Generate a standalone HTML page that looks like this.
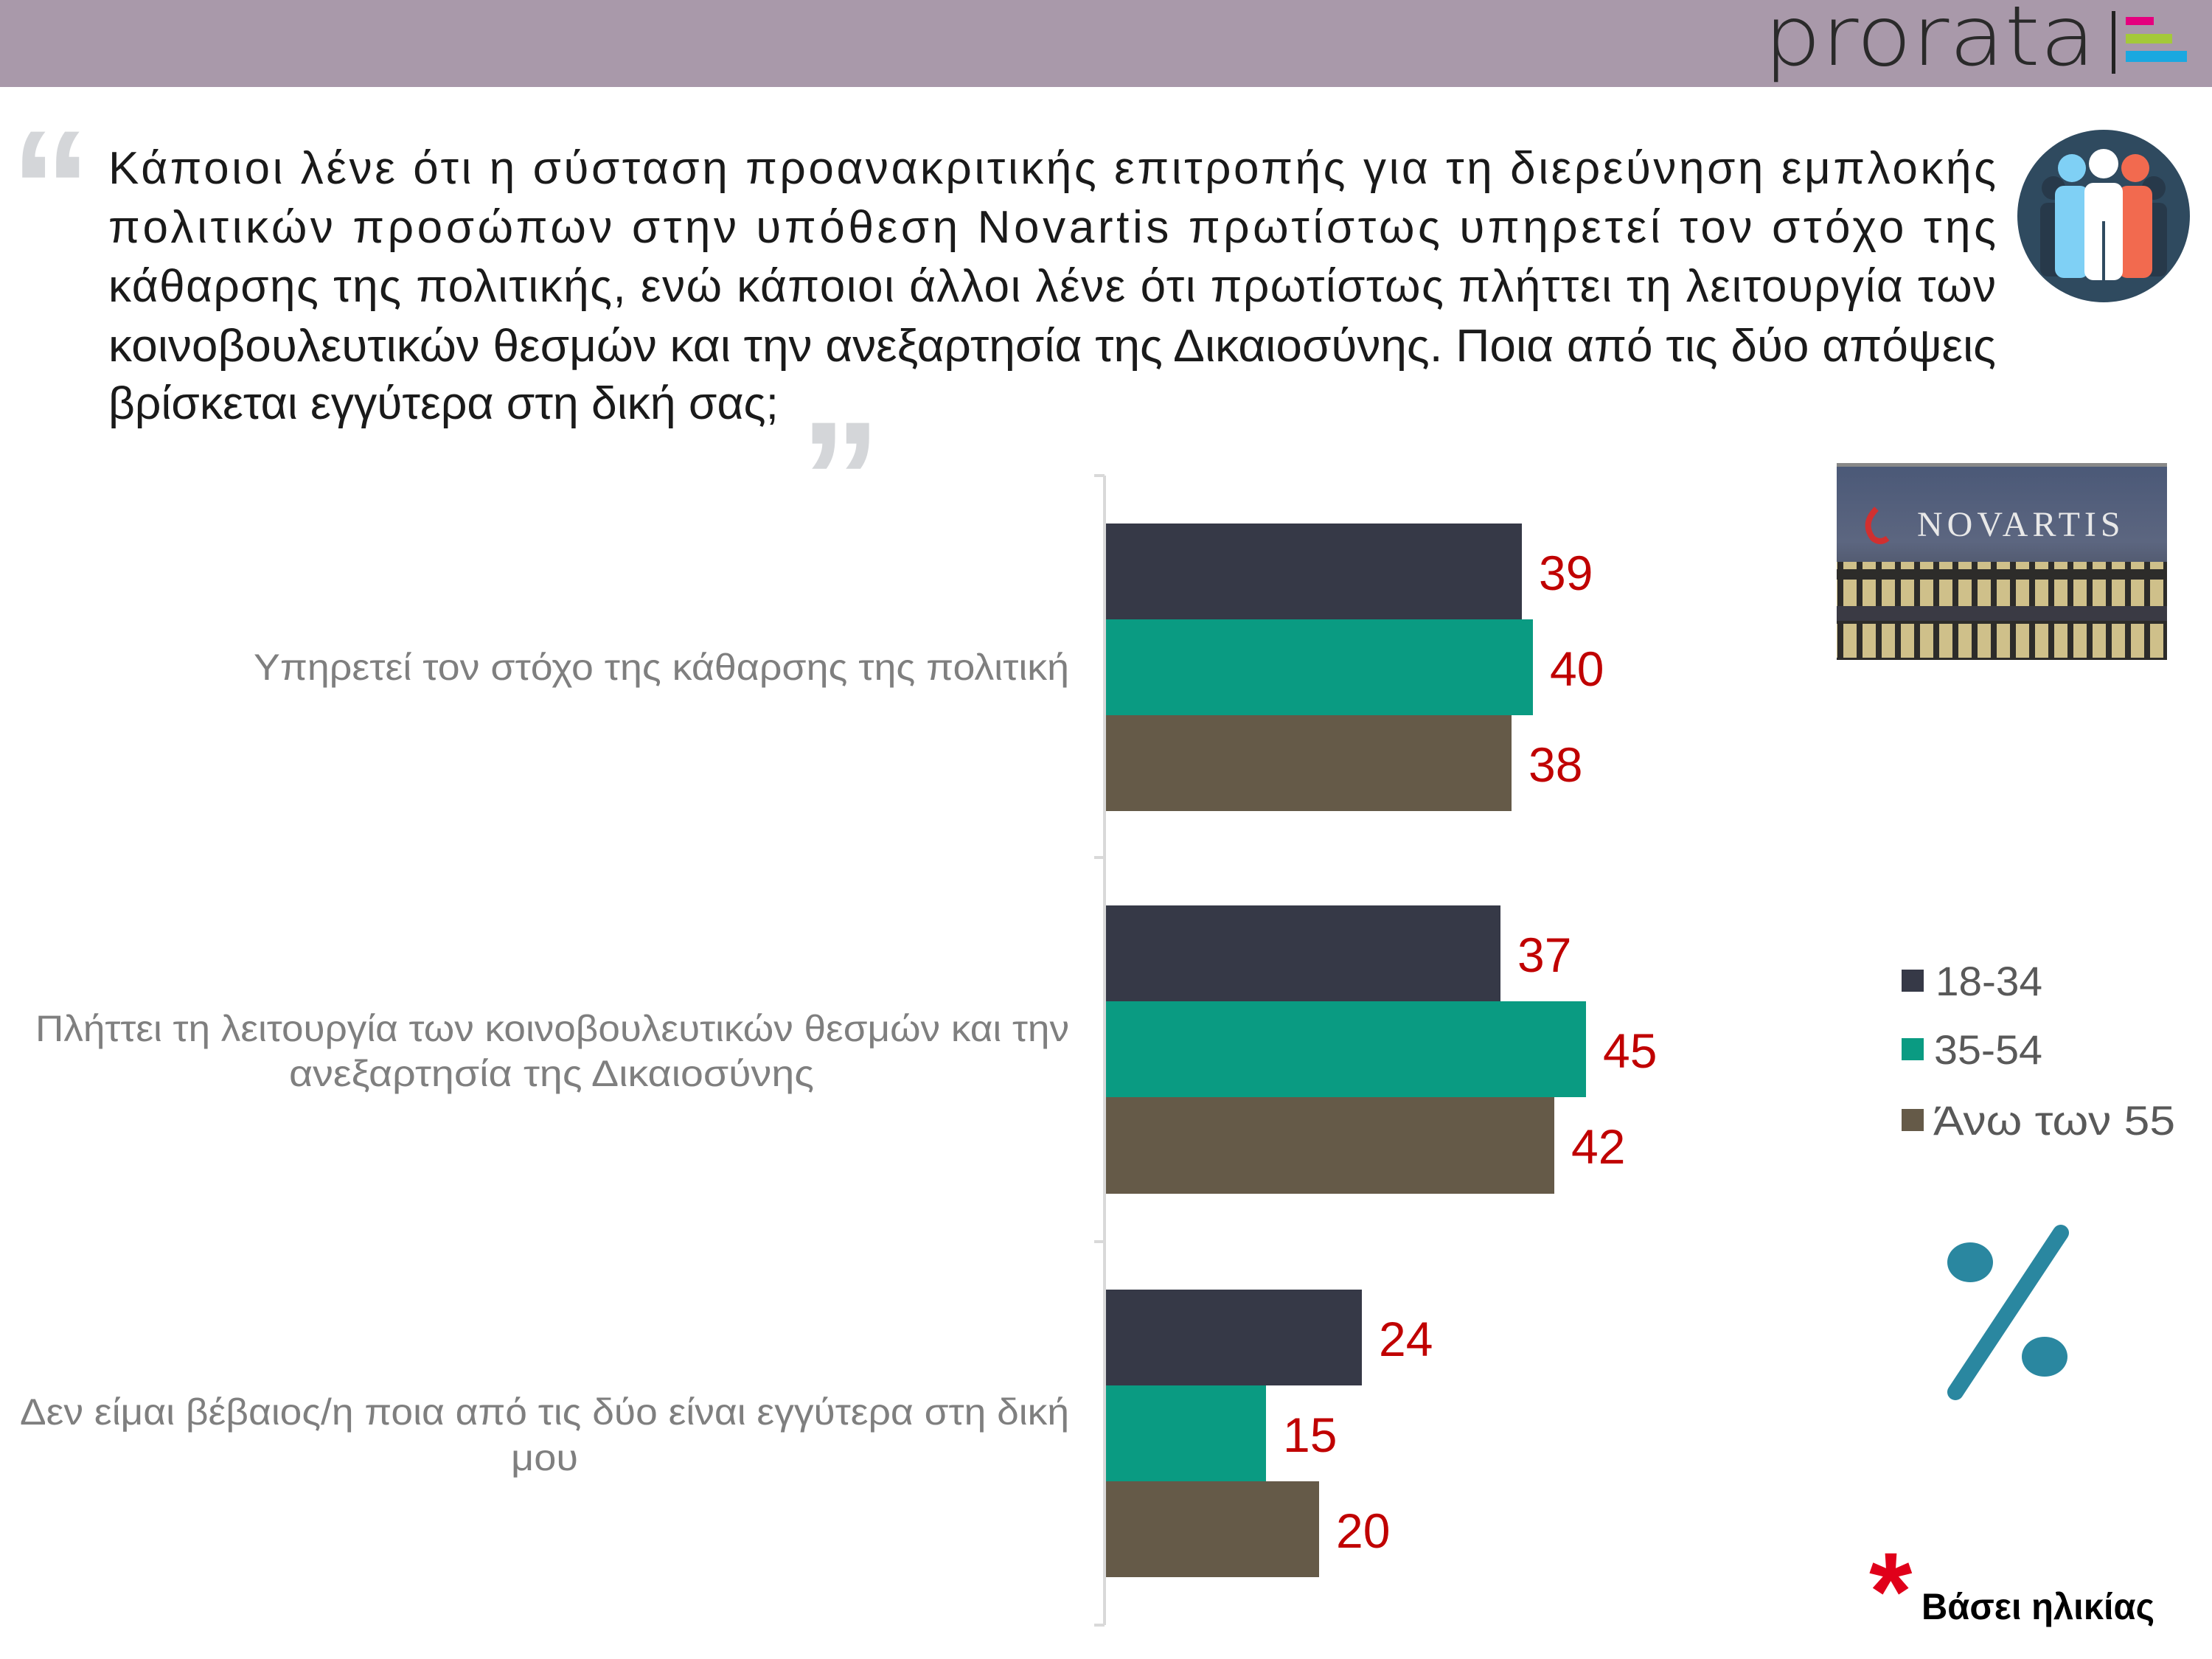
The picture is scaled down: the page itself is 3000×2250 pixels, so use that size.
<!DOCTYPE html>
<html><head><meta charset="utf-8"><style>
html,body{margin:0;padding:0;background:#fff;}
svg{display:block}
text{font-family:"Liberation Sans","DejaVu Sans",sans-serif}
</style></head><body>
<svg width="3000" height="2250" viewBox="0 0 3000 2250" xmlns="http://www.w3.org/2000/svg">
<rect x="0" y="0" width="3000" height="118" fill="#a999aa"/>
<text x="2392" y="88" font-size="112" fill="#2a2a2a" style="font-family:'DejaVu Sans','Liberation Sans',sans-serif;font-weight:200" textLength="450" lengthAdjust="spacingAndGlyphs">prorata</text>
<rect x="2864" y="15" width="5" height="85" fill="#222"/>
<rect x="2883" y="23" width="38" height="11" fill="#e5007e"/>
<rect x="2883" y="46" width="63" height="13" fill="#a4c93a"/>
<rect x="2883" y="69" width="83" height="15" fill="#1aa8e0"/>

<!-- quotes -->
<text x="14" y="330" font-size="220" fill="#d4d6d9" font-weight="bold">“</text>
<text x="1085" y="725" font-size="220" fill="#d4d6d9" font-weight="bold">”</text>

<g font-size="62" fill="#1a1a1a">
<text x="147" y="249" textLength="2560" lengthAdjust="spacing">Κάποιοι λένε ότι η σύσταση προανακριτικής επιτροπής για τη διερεύνηση εμπλοκής</text>
<text x="147" y="329" textLength="2560" lengthAdjust="spacing">πολιτικών προσώπων στην υπόθεση Novartis πρωτίστως υπηρετεί τον στόχο της</text>
<text x="147" y="409" textLength="2560" lengthAdjust="spacing">κάθαρσης της πολιτικής, ενώ κάποιοι άλλοι λένε ότι πρωτίστως πλήττει τη λειτουργία των</text>
<text x="147" y="490" textLength="2560" lengthAdjust="spacingAndGlyphs">κοινοβουλευτικών θεσμών και την ανεξαρτησία της Δικαιοσύνης. Ποια από τις δύο απόψεις</text>
<text x="147" y="568" textLength="909" lengthAdjust="spacingAndGlyphs">βρίσκεται εγγύτερα στη δική σας;</text>
</g>

<!-- people icon -->
<circle cx="2853" cy="293" r="117" fill="#2f4a5f"/>
<g fill="#27394a">
<circle cx="2785" cy="255" r="16"/><rect x="2767" y="275" width="36" height="100" rx="10"/>
<circle cx="2921" cy="255" r="16"/><rect x="2903" y="275" width="36" height="100" rx="10"/>
</g>
<circle cx="2810" cy="228" r="19" fill="#7fd0f5"/><rect x="2787" y="252" width="46" height="125" rx="12" fill="#7fd0f5"/>
<circle cx="2896" cy="228" r="19" fill="#f26a4f"/><rect x="2873" y="252" width="46" height="125" rx="12" fill="#f26a4f"/>
<circle cx="2853" cy="222" r="20" fill="#fff"/><rect x="2827" y="248" width="52" height="132" rx="12" fill="#fff"/>
<rect x="2851" y="300" width="4" height="80" fill="#2f4a5f"/>

<!-- novartis image -->
<defs><linearGradient id="ng" x1="0" y1="0" x2="0" y2="1">
<stop offset="0" stop-color="#4a5877"/><stop offset="0.4" stop-color="#5c6680"/><stop offset="1" stop-color="#2a2a2c"/></linearGradient>
<pattern id="win" x="0" y="0" width="26" height="60" patternUnits="userSpaceOnUse">
<rect width="26" height="60" fill="#2d2c2a"/><rect x="4" y="6" width="18" height="46" fill="#cfc08a"/></pattern></defs>
<rect x="2491" y="628" width="448" height="267" fill="url(#ng)"/>
<rect x="2491" y="628" width="448" height="5" fill="#888"/>
<text x="2600" y="727" font-size="48" fill="#e8e8e8" letter-spacing="6" style="font-family:'Liberation Serif',serif">NOVARTIS</text>
<path d="M2545 690 q-20 20 -5 40 q10 8 20 0" stroke="#d03030" stroke-width="8" fill="none"/>
<rect x="2491" y="762" width="448" height="60" fill="url(#win)"/>
<rect x="2491" y="822" width="448" height="20" fill="#3a3a44"/>
<rect x="2491" y="842" width="448" height="53" fill="url(#win)"/>

<!-- axis -->
<g stroke="#d9d9d9" stroke-width="4">
<line x1="1498" y1="645" x2="1498" y2="2204"/>
<line x1="1484" y1="645" x2="1498" y2="645"/>
<line x1="1484" y1="1163" x2="1498" y2="1163"/>
<line x1="1484" y1="1684" x2="1498" y2="1684"/>
<line x1="1484" y1="2204" x2="1498" y2="2204"/>
</g>

<!-- bars -->
<g>
<rect x="1500" y="710" width="564" height="130" fill="#363947"/>
<rect x="1500" y="840" width="579" height="130" fill="#0a9b82"/>
<rect x="1500" y="970" width="550" height="130" fill="#655a48"/>
<rect x="1500" y="1228" width="535" height="130" fill="#363947"/>
<rect x="1500" y="1358" width="651" height="130" fill="#0a9b82"/>
<rect x="1500" y="1488" width="608" height="131" fill="#655a48"/>
<rect x="1500" y="1749" width="347" height="130" fill="#363947"/>
<rect x="1500" y="1879" width="217" height="130" fill="#0a9b82"/>
<rect x="1500" y="2009" width="289" height="130" fill="#655a48"/>
</g>
<g font-size="66" fill="#c00000">
<text x="2087" y="800">39</text>
<text x="2102" y="930">40</text>
<text x="2073" y="1060">38</text>
<text x="2058" y="1318">37</text>
<text x="2174" y="1448">45</text>
<text x="2131" y="1578">42</text>
<text x="1870" y="1839">24</text>
<text x="1740" y="1969">15</text>
<text x="1812" y="2099">20</text>
</g>

<g font-size="50" fill="#7f7f7f">
<text x="344" y="922" textLength="1106" lengthAdjust="spacingAndGlyphs">Υπηρετεί τον στόχο της κάθαρσης της πολιτική</text>
<text x="48" y="1412" textLength="1402" lengthAdjust="spacingAndGlyphs">Πλήττει τη λειτουργία των κοινοβουλευτικών θεσμών και την</text>
<text x="392" y="1473" textLength="712" lengthAdjust="spacingAndGlyphs">ανεξαρτησία της Δικαιοσύνης</text>
<text x="27" y="1932" textLength="1423" lengthAdjust="spacingAndGlyphs">Δεν είμαι βέβαιος/η ποια από τις δύο είναι εγγύτερα στη δική</text>
<text x="693" y="1994" textLength="91" lengthAdjust="spacingAndGlyphs">μου</text>
</g>

<!-- legend -->
<rect x="2579" y="1315" width="30" height="30" fill="#363947"/>
<rect x="2579" y="1408" width="30" height="30" fill="#0a9b82"/>
<rect x="2579" y="1504" width="30" height="30" fill="#655a48"/>
<g font-size="56" fill="#595959">
<text x="2625" y="1350" textLength="145" lengthAdjust="spacingAndGlyphs">18-34</text>
<text x="2623" y="1443" textLength="147" lengthAdjust="spacingAndGlyphs">35-54</text>
<text x="2622" y="1539" textLength="328" lengthAdjust="spacingAndGlyphs">Άνω των 55</text>
</g>

<!-- percent -->
<ellipse cx="2672" cy="1712" rx="31" ry="27" fill="#2a87a0"/>
<ellipse cx="2773" cy="1840" rx="31" ry="27" fill="#2a87a0"/>
<line x1="2795" y1="1672" x2="2652" y2="1888" stroke="#2a87a0" stroke-width="22" stroke-linecap="round"/>

<!-- footnote -->
<text x="2535" y="2210" font-size="150" fill="#e0001a" font-weight="bold">*</text>
<text x="2606" y="2196" font-size="50" fill="#000" font-weight="bold" textLength="316" lengthAdjust="spacingAndGlyphs">Βάσει ηλικίας</text>
</svg>
</body></html>
